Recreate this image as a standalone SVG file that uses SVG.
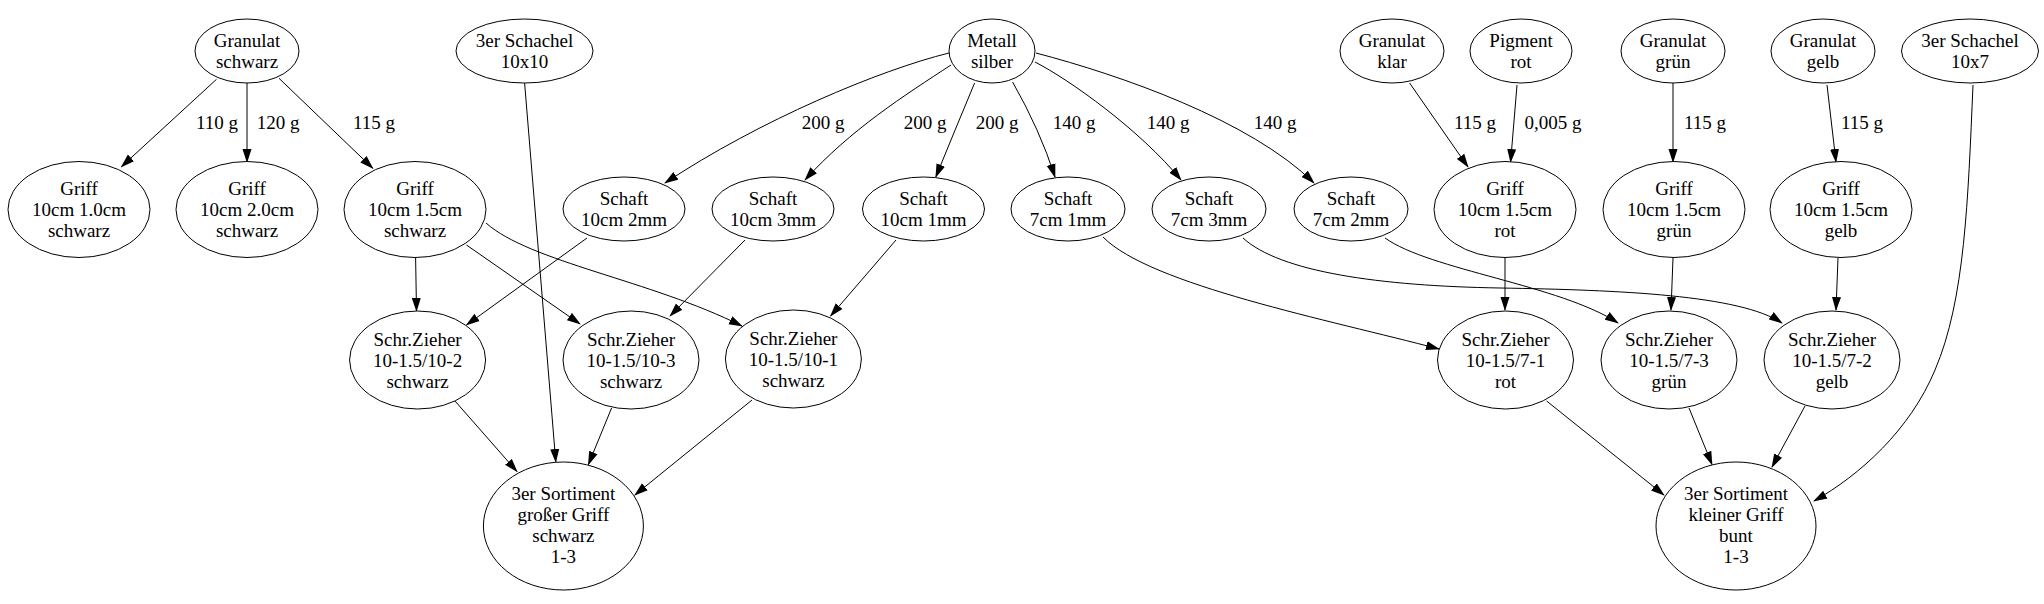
<svg xmlns="http://www.w3.org/2000/svg" width="2044" height="604" viewBox="0 0 2044 604">
<style>
.n ellipse{fill:#fff;stroke:#000;stroke-width:1}
text{font-family:"Liberation Serif","Times New Roman",serif;font-size:19px;text-anchor:middle;fill:#000}
#edges path{fill:none;stroke:#000;stroke-width:1;marker-end:url(#arr)}
</style>
<defs>
<marker id="arr" markerUnits="userSpaceOnUse" markerWidth="14" markerHeight="10" viewBox="0 0 14 10" refX="13" refY="5" orient="auto">
<path d="M0,0.5 L14,5 L0,9.5 z" fill="#000"/>
</marker>
</defs>
<rect width="2044" height="604" fill="#fff"/>
<g id="edges">
<path d="M216.5,79.3 L121.4,166.7"/>
<path d="M247,83 L247,162"/>
<path d="M279,78.3 L372.8,168.3"/>
<path d="M524.6,83 L555.8,462"/>
<path d="M949,53 C880,70 760,120 665,183"/>
<path d="M951,65 C905,95 850,130 805,180"/>
<path d="M974.6,83 Q955,130 935.8,177"/>
<path d="M1012.6,82 Q1040,130 1055,177"/>
<path d="M1035,62 C1070,80 1140,130 1181,180"/>
<path d="M1036,53 C1120,75 1250,120 1314,183"/>
<path d="M415.6,257.3 L416.5,311"/>
<path d="M466.5,245 L580,324"/>
<path d="M486,223 C530,262 650,280 742,326"/>
<path d="M587,238 L466.5,325"/>
<path d="M745,240 L670,316"/>
<path d="M896,240 L830.6,316"/>
<path d="M1103,237 C1150,285 1330,320 1439,349"/>
<path d="M1243,238 C1280,272 1380,286 1500,288 S1740,295 1782,323"/>
<path d="M1385,238 C1430,270 1560,285 1618,323"/>
<path d="M1409.6,83 L1468,167"/>
<path d="M1517,85 L1510.6,162"/>
<path d="M1673,83 L1673,162"/>
<path d="M1827,85 L1836,162"/>
<path d="M1505,258 L1505,310"/>
<path d="M1673,258 L1671,310"/>
<path d="M1838,258 L1836,310"/>
<path d="M1546.6,401 L1664,495"/>
<path d="M1689,408 L1712,464.5"/>
<path d="M1805,406 L1772,467"/>
<path d="M1973,85 C1968,200 1965,300 1935,370 C1910,430 1860,475 1814,501"/>
<path d="M455,401 L517,471.6"/>
<path d="M611.6,408 L588.4,464.5"/>
<path d="M752,400 L634.8,495"/>
</g>
<g id="edge-labels">
<text x="217" y="129">110 g</text>
<text x="278" y="129">120 g</text>
<text x="374" y="129">115 g</text>
<text x="823" y="129">200 g</text>
<text x="925" y="129">200 g</text>
<text x="997" y="129">200 g</text>
<text x="1074" y="129">140 g</text>
<text x="1168" y="129">140 g</text>
<text x="1275" y="129">140 g</text>
<text x="1475" y="129">115 g</text>
<text x="1553" y="129">0,005 g</text>
<text x="1705" y="129">115 g</text>
<text x="1862" y="129">115 g</text>
</g>
<g id="granulat_schwarz" class="n"><ellipse cx="247" cy="51" rx="52" ry="32"/><text x="247" y="47">Granulat</text><text x="247" y="68">schwarz</text></g>
<g id="schachel_10x10" class="n"><ellipse cx="524.5" cy="51" rx="68.5" ry="32"/><text x="524.5" y="47">3er Schachel</text><text x="524.5" y="68">10x10</text></g>
<g id="metall_silber" class="n"><ellipse cx="992" cy="51" rx="43" ry="32"/><text x="992" y="47">Metall</text><text x="992" y="68">silber</text></g>
<g id="granulat_klar" class="n"><ellipse cx="1392" cy="51" rx="52" ry="32"/><text x="1392" y="47">Granulat</text><text x="1392" y="68">klar</text></g>
<g id="pigment_rot" class="n"><ellipse cx="1521" cy="51" rx="51" ry="32"/><text x="1521" y="47">Pigment</text><text x="1521" y="68">rot</text></g>
<g id="granulat_gruen" class="n"><ellipse cx="1673" cy="51" rx="52" ry="32"/><text x="1673" y="47">Granulat</text><text x="1673" y="68">grün</text></g>
<g id="granulat_gelb" class="n"><ellipse cx="1823" cy="51" rx="52" ry="32"/><text x="1823" y="47">Granulat</text><text x="1823" y="68">gelb</text></g>
<g id="schachel_10x7" class="n"><ellipse cx="1970" cy="51" rx="68.5" ry="32"/><text x="1970" y="47">3er Schachel</text><text x="1970" y="68">10x7</text></g>
<g id="griff_10_10_schwarz" class="n"><ellipse cx="79" cy="209.5" rx="71" ry="48"/><text x="79" y="195">Griff</text><text x="79" y="216">10cm 1.0cm</text><text x="79" y="237">schwarz</text></g>
<g id="griff_10_20_schwarz" class="n"><ellipse cx="247" cy="209.5" rx="71" ry="48"/><text x="247" y="195">Griff</text><text x="247" y="216">10cm 2.0cm</text><text x="247" y="237">schwarz</text></g>
<g id="griff_10_15_schwarz" class="n"><ellipse cx="415" cy="209.5" rx="71" ry="48"/><text x="415" y="195">Griff</text><text x="415" y="216">10cm 1.5cm</text><text x="415" y="237">schwarz</text></g>
<g id="schaft_10_2" class="n"><ellipse cx="624" cy="209" rx="61" ry="32"/><text x="624" y="205">Schaft</text><text x="624" y="226">10cm 2mm</text></g>
<g id="schaft_10_3" class="n"><ellipse cx="773" cy="209" rx="61" ry="32"/><text x="773" y="205">Schaft</text><text x="773" y="226">10cm 3mm</text></g>
<g id="schaft_10_1" class="n"><ellipse cx="923.5" cy="209" rx="61" ry="32"/><text x="923.5" y="205">Schaft</text><text x="923.5" y="226">10cm 1mm</text></g>
<g id="schaft_7_1" class="n"><ellipse cx="1068" cy="209" rx="57" ry="32"/><text x="1068" y="205">Schaft</text><text x="1068" y="226">7cm 1mm</text></g>
<g id="schaft_7_3" class="n"><ellipse cx="1209" cy="209" rx="57" ry="32"/><text x="1209" y="205">Schaft</text><text x="1209" y="226">7cm 3mm</text></g>
<g id="schaft_7_2" class="n"><ellipse cx="1351" cy="209" rx="57" ry="32"/><text x="1351" y="205">Schaft</text><text x="1351" y="226">7cm 2mm</text></g>
<g id="griff_rot" class="n"><ellipse cx="1505" cy="209.5" rx="71" ry="48"/><text x="1505" y="195">Griff</text><text x="1505" y="216">10cm 1.5cm</text><text x="1505" y="237">rot</text></g>
<g id="griff_gruen" class="n"><ellipse cx="1674" cy="209.5" rx="71" ry="48"/><text x="1674" y="195">Griff</text><text x="1674" y="216">10cm 1.5cm</text><text x="1674" y="237">grün</text></g>
<g id="griff_gelb" class="n"><ellipse cx="1841" cy="209.5" rx="71" ry="48"/><text x="1841" y="195">Griff</text><text x="1841" y="216">10cm 1.5cm</text><text x="1841" y="237">gelb</text></g>
<g id="sz_10_2" class="n"><ellipse cx="417.6" cy="360" rx="68" ry="49"/><text x="417.6" y="345.5">Schr.Zieher</text><text x="417.6" y="366.5">10-1.5/10-2</text><text x="417.6" y="387.5">schwarz</text></g>
<g id="sz_10_3" class="n"><ellipse cx="631" cy="360" rx="68" ry="49"/><text x="631" y="345.5">Schr.Zieher</text><text x="631" y="366.5">10-1.5/10-3</text><text x="631" y="387.5">schwarz</text></g>
<g id="sz_10_1" class="n"><ellipse cx="793.4" cy="359" rx="68" ry="49"/><text x="793.4" y="344.5">Schr.Zieher</text><text x="793.4" y="365.5">10-1.5/10-1</text><text x="793.4" y="386.5">schwarz</text></g>
<g id="sz_7_1" class="n"><ellipse cx="1505.5" cy="360" rx="68" ry="49"/><text x="1505.5" y="345.5">Schr.Zieher</text><text x="1505.5" y="366.5">10-1.5/7-1</text><text x="1505.5" y="387.5">rot</text></g>
<g id="sz_7_3" class="n"><ellipse cx="1669" cy="360" rx="68" ry="49"/><text x="1669" y="345.5">Schr.Zieher</text><text x="1669" y="366.5">10-1.5/7-3</text><text x="1669" y="387.5">grün</text></g>
<g id="sz_7_2" class="n"><ellipse cx="1832" cy="360" rx="68" ry="49"/><text x="1832" y="345.5">Schr.Zieher</text><text x="1832" y="366.5">10-1.5/7-2</text><text x="1832" y="387.5">gelb</text></g>
<g id="sortiment_gross" class="n"><ellipse cx="563.4" cy="526" rx="80" ry="64"/><text x="563.4" y="500">3er Sortiment</text><text x="563.4" y="521">großer Griff</text><text x="563.4" y="542">schwarz</text><text x="563.4" y="563">1-3</text></g>
<g id="sortiment_klein" class="n"><ellipse cx="1736" cy="526" rx="80" ry="64"/><text x="1736" y="500">3er Sortiment</text><text x="1736" y="521">kleiner Griff</text><text x="1736" y="542">bunt</text><text x="1736" y="563">1-3</text></g>
</svg>
